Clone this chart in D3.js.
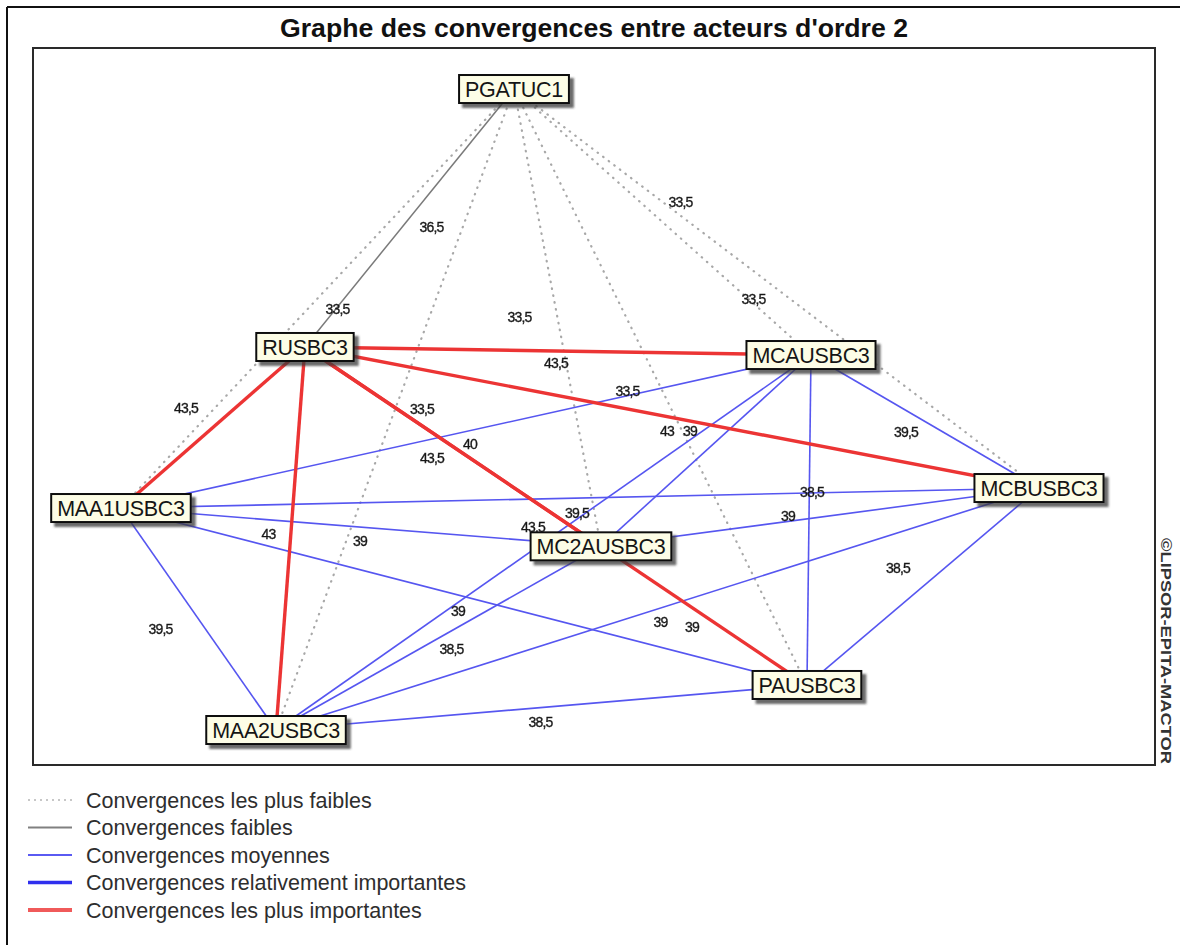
<!DOCTYPE html>
<html>
<head>
<meta charset="utf-8">
<script src="https://cdn.jsdelivr.net/npm/d3@7"></script>
<style>
  html, body { margin: 0; padding: 0; background: #ffffff; }
  svg { display: block; }
</style>
</head>
<body>
<svg id="chart" width="1180" height="945"></svg>
<script>
// ---------- DATA ----------
const titleText = "Graphe des convergences entre acteurs d'ordre 2";
const copyrightText = "©LIPSOR-EPITA-MACTOR";

const nodeNames = ["PGATUC1", "RUSBC3", "MCAUSBC3", "MAA1USBC3", "MCBUSBC3", "MC2AUSBC3", "PAUSBC3", "MAA2USBC3"];
// node layout positions as fractions of the plotting frame
const nodeX = [0.4287, 0.2424, 0.6934, 0.0784, 0.8966, 0.5062, 0.6898, 0.2166];
const nodeY = [0.0572, 0.4170, 0.4282, 0.6416, 0.6137, 0.6950, 0.8884, 0.9512];

// edges: source index, target index, convergence value
const edgeSource = [0, 0, 0, 0, 0, 0, 0, 1, 1, 1, 1, 1, 1, 2, 2, 2, 2, 2, 3, 3, 3, 3, 4, 4, 4, 5, 5, 6];
const edgeTarget = [1, 2, 3, 4, 5, 6, 7, 2, 3, 4, 5, 6, 7, 3, 4, 5, 6, 7, 4, 5, 6, 7, 5, 6, 7, 6, 7, 7];
const edgeValue  = [36.5, 33.5, 33.5, 33.5, 33.5, 33.5, 33.5,
                    43.5, 43.5, 43, 43.5, 43.5, 43,
                    40, 39.5, 39, 39, 39,
                    39.5, 39, 39, 39.5,
                    38.5, 38.5, 39,
                    39, 38.5,
                    38.5];

const classThresholds = [35, 38, 41, 42];
const classNames = ["Convergences les plus faibles", "Convergences faibles", "Convergences moyennes",
                    "Convergences relativement importantes", "Convergences les plus importantes"];

// ---------- LAYOUT / STYLE ----------
const frame = { left: 33, top: 48, right: 1155, bottom: 765 };
const classColor = ["#a8a8a8", "#7a7a7a", "#5656f0", "#3434f4", "#ec3434"];
const classWidth = [2.2, 1.5, 1.6, 2.4, 3.4];
const classDash  = ["0.5,6.5", null, null, null, null];
const legendColor = ["#b5b5b5", "#808080", "#5a5af2", "#2f2fee", "#f05a5a"];
const legendWidth = [1.5, 2, 2, 3.5, 4];
const legendDash  = ["2,4", null, null, null, null];
// label nudges relative to edge midpoints (pixels)
const labelNudge = [[22, 9], [18, -20], [20, 11], [-23, 11], [-38, -1], [-33, 4], [27, 0],
                    [-2, 12], [-27, -19], [-5, 14], [-21, 11], [-23, 11], [-22, -4],
                    [4, 13], [-19, 11], [-16, -20], [-21, -4], [0, 0],
                    [-3, 15], [-1, 14], [-6, 15], [-38, 10],
                    [-8, -25], [-25, -18], [3, 13],
                    [-12, 11], [13, 11],
                    [-1, 15]];

const svg = d3.select("#chart");
const x = d3.scaleLinear().domain([0, 1]).range([frame.left, frame.right]);
const y = d3.scaleLinear().domain([0, 1]).range([frame.top, frame.bottom]);
const cls = d3.scaleThreshold().domain(classThresholds).range([0, 1, 2, 3, 4]);
const frLocale = d3.formatLocale({ decimal: ",", thousands: " ", grouping: [3], currency: ["", " €"] });
const fmt = frLocale.format("~g");

const nodes = nodeNames.map((n, i) => ({ name: n, x: nodeX[i], y: nodeY[i] }));
const edges = edgeSource.map((s, i) => ({
  s: nodes[s], t: nodes[edgeTarget[i]], v: edgeValue[i], c: cls(edgeValue[i]), nudge: labelNudge[i]
}));
edges.forEach(d => {
  d.lx = (x(d.s.x) + x(d.t.x)) / 2 + d.nudge[0];
  d.ly = (y(d.s.y) + y(d.t.y)) / 2 + d.nudge[1];
});

// defs
const defs = svg.append("defs");
const sh = defs.append("filter").attr("id", "shadow").attr("x", "-20%").attr("y", "-30%").attr("width", "150%").attr("height", "190%");
sh.append("feDropShadow").attr("dx", 4).attr("dy", 4).attr("stdDeviation", 1.3)
  .attr("flood-color", "#3a3a3a").attr("flood-opacity", 0.75);
const soft = defs.append("filter").attr("id", "soft");
soft.append("feGaussianBlur").attr("stdDeviation", 0.3);

// outer border (left and top)
svg.append("line").attr("x1", 7).attr("y1", 7).attr("x2", 1180).attr("y2", 7)
  .attr("stroke", "#111").attr("stroke-width", 2);
svg.append("line").attr("x1", 7).attr("y1", 7).attr("x2", 7).attr("y2", 945)
  .attr("stroke", "#111").attr("stroke-width", 2);

// title
svg.append("text")
  .attr("x", 594).attr("y", 37)
  .attr("text-anchor", "middle")
  .attr("font-family", "Liberation Sans, Arial, sans-serif")
  .attr("font-weight", "bold").attr("font-size", 25)
  .attr("textLength", 628).attr("lengthAdjust", "spacingAndGlyphs")
  .attr("fill", "#111")
  .text(titleText);

// plot frame
svg.append("rect")
  .attr("x", frame.left).attr("y", frame.top)
  .attr("width", frame.right - frame.left).attr("height", frame.bottom - frame.top)
  .attr("fill", "#fff").attr("stroke", "#2a2a2a").attr("stroke-width", 2);

// edges, drawn weakest first
const edgeG = svg.append("g");
edgeG.selectAll("line")
  .data(edges.slice().sort((a, b) => a.c - b.c))
  .join("line")
  .attr("x1", d => x(d.s.x)).attr("y1", d => y(d.s.y))
  .attr("x2", d => x(d.t.x)).attr("y2", d => y(d.t.y))
  .attr("stroke", d => classColor[d.c])
  .attr("stroke-width", d => classWidth[d.c])
  .attr("stroke-dasharray", d => classDash[d.c])
  .attr("stroke-linecap", d => d.c === 0 ? "round" : "butt");

const labelLayer = svg.append("g");

// node boxes
const nodeG = svg.append("g").selectAll("g")
  .data(nodes)
  .join("g")
  .attr("transform", d => `translate(${x(d.x)},${y(d.y)})`);
const rects = nodeG.append("rect")
  .attr("fill", "#fdfde6").attr("stroke", "#111").attr("stroke-width", 2)
  .attr("filter", "url(#shadow)");
const labels = nodeG.append("text")
  .attr("text-anchor", "middle").attr("dy", "0.36em")
  .attr("font-family", "Liberation Sans, Arial, sans-serif")
  .attr("font-size", 21.5).attr("letter-spacing", -0.3)
  .attr("fill", "#151515")
  .text(d => d.name);
labels.each(function (d) { d.w = this.getComputedTextLength(); d.bw = d.w + 12; d.bh = 28; });
rects.attr("x", d => -d.bw / 2).attr("y", d => -d.bh / 2)
  .attr("width", d => d.bw).attr("height", d => d.bh);

// edge labels (those hidden under a node box are not visible in the original)
const hidden = d => nodes.some(n =>
  Math.abs(d.lx - x(n.x)) < n.bw / 2 && Math.abs(d.ly - y(n.y)) < n.bh / 2);
labelLayer.selectAll("text")
  .data(edges.filter(d => !hidden(d)))
  .join("text")
  .attr("x", d => d.lx)
  .attr("y", d => d.ly)
  .attr("dy", "0.35em")
  .attr("text-anchor", "middle")
  .attr("font-family", "Liberation Sans, Arial, sans-serif")
  .attr("font-size", 14)
  .attr("letter-spacing", -0.8)
  .attr("fill", "#1a1a1a")
  .attr("stroke", "#1a1a1a").attr("stroke-width", 0.35)
  .attr("filter", "url(#soft)")
  .text(d => fmt(d.v));

// legend
const legG = svg.append("g").selectAll("g")
  .data(classNames)
  .join("g")
  .attr("transform", (d, i) => `translate(0,${800 + i * 27.5})`);
legG.append("line")
  .attr("x1", 28).attr("x2", 72).attr("y1", 0).attr("y2", 0)
  .attr("stroke", (d, i) => legendColor[i])
  .attr("stroke-width", (d, i) => legendWidth[i])
  .attr("stroke-dasharray", (d, i) => legendDash[i]);
legG.append("text")
  .attr("x", 86).attr("dy", "0.35em")
  .attr("font-family", "Liberation Sans, Arial, sans-serif")
  .attr("font-size", 21.5)
  .attr("fill", "#2e2e2e")
  .text(d => d);

// copyright, rotated
svg.append("text")
  .attr("transform", "translate(1161,651) rotate(90)")
  .attr("text-anchor", "middle")
  .attr("font-family", "Liberation Sans, Arial, sans-serif")
  .attr("font-weight", "bold").attr("font-size", 14)
  .attr("textLength", 226).attr("lengthAdjust", "spacingAndGlyphs")
  .attr("fill", "#333")
  .text(copyrightText);
</script>
</body>
</html>
